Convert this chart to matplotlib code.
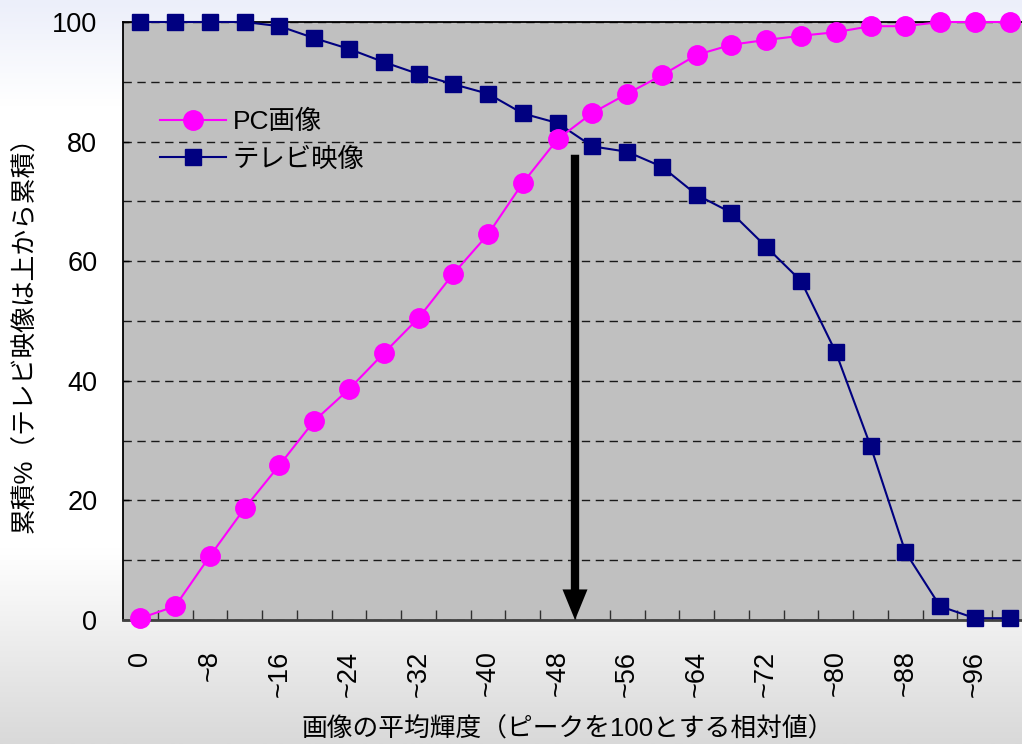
import numpy as np
import matplotlib
matplotlib.use("Agg")
import matplotlib.pyplot as plt
from matplotlib.colors import LinearSegmentedColormap

plt.rcParams['font.family'] = ['Liberation Sans', 'Noto Sans CJK JP', 'DejaVu Sans']

# Brightness bins (each 4 units wide, 26 bins)
bins = ["0", "~4", "~8", "~12", "~16", "~20", "~24", "~28", "~32", "~36", "~40",
        "~44", "~48", "~52", "~56", "~60", "~64", "~68", "~72", "~76", "~80",
        "~84", "~88", "~92", "~96", "~100"]

# Cumulative share (%) for PC content (accumulated from the bottom)
pc_cum = [0.3, 2.3, 10.7, 18.7, 25.9, 33.3, 38.6, 44.6, 50.5, 57.9, 64.5,
          73.1, 80.4, 84.8, 88.0, 91.1, 94.5, 96.2, 97.0, 97.7, 98.3,
          99.3, 99.3, 100.0, 100.0, 100.0]

# Cumulative share (%) for TV content (accumulated from the top)
tv_cum = [100.0, 100.0, 100.0, 100.0, 99.3, 97.3, 95.5, 93.3, 91.3, 89.6, 88.0,
          84.7, 83.1, 79.2, 78.3, 75.8, 71.1, 68.1, 62.4, 56.7, 44.8,
          29.1, 11.4, 2.3, 0.3, 0.3]

series_names = ["PC画像", "テレビ映像"]
xlabel_text = "画像の平均輝度（ピークを100とする相対値）"
ylabel_text = "累積%（テレビ映像は上から累積）"

# Arrow marking the crossover between the two distributions
arrow_x = 12.5
arrow_y_start = 77.8
arrow_y_end = 0.0

W, H = 1022, 744
fig = plt.figure(figsize=(W / 100, H / 100), dpi=100)

# Soft vertical background gradient for the whole figure
bg = fig.add_axes([0, 0, 1, 1], zorder=-10)
bg.set_axis_off()
grad_cmap = LinearSegmentedColormap.from_list(
    "bg", [(0.0, "#eceffa"), (0.14, "#ffffff"), (0.74, "#ffffff"), (1.0, "#d9d9d9")])
bg.imshow(np.linspace(0, 1, 256).reshape(-1, 1), aspect="auto", cmap=grad_cmap,
          extent=[0, 1, 0, 1])

left_px, right_px, top_px, bottom_px = 123, 1027, 22, 620
ax = fig.add_axes([left_px / W, (H - bottom_px) / H,
                   (right_px - left_px) / W, (bottom_px - top_px) / H])
ax.set_facecolor("#c0c0c0")

x = np.arange(len(bins))
ax.plot(x, tv_cum, color="#000080", lw=1.5, marker="s", ms=11,
        markerfacecolor="#000080", markeredgecolor="#000080",
        clip_on=False, zorder=3, label=series_names[1])
ax.plot(x, pc_cum, color="#ff00ff", lw=1.5, marker="o", ms=14,
        markerfacecolor="#ff00ff", markeredgecolor="#ff00ff",
        clip_on=False, zorder=4, label=series_names[0])

ax.set_xlim(-0.5, len(bins) - 0.5)
ax.set_ylim(0, 100)

# Y axis
ax.set_yticks(np.arange(0, 101, 20))
ax.set_yticks(np.arange(10, 100, 20), minor=True)
ax.tick_params(axis="y", which="major", direction="in", length=4, width=1,
               labelsize=19.5, pad=18.5)
ax.tick_params(axis="y", which="minor", length=0)
ax.grid(axis="y", which="both", color="#1a1a1a", lw=1.0, linestyle=(0, (6, 4)))
ax.set_axisbelow(True)

# X axis: labels every other bin, tick marks on bin boundaries
ax.set_xticks(x[::2])
ax.set_xticklabels(bins[::2], rotation=90, fontsize=19.5)
ax.set_xticks(np.arange(0.5, len(bins) - 0.5, 1), minor=True)
ax.tick_params(axis="x", which="major", length=0, pad=22)
ax.tick_params(axis="x", which="minor", direction="in", length=7, width=1,
               color="#303030")

for side in ["left", "top", "right"]:
    ax.spines[side].set_color("#000000")
    ax.spines[side].set_linewidth(1.3)
ax.spines["bottom"].set_color("#404040")
ax.spines["bottom"].set_linewidth(2)

ax.set_xlabel(xlabel_text, fontsize=18.5)
ax.xaxis.set_label_coords(0.492, -0.183)
ax.xaxis.label.set_va("center")
ax.set_ylabel(ylabel_text, fontsize=18.5)
ax.yaxis.set_label_coords(-0.108, 0.488)
ax.yaxis.label.set_va("center")

handles, labels = ax.get_legend_handles_labels()
leg = ax.legend(handles[::-1], labels[::-1], loc="upper left",
                bbox_to_anchor=(0.041, 0.853), frameon=False, fontsize=19,
                borderpad=0, borderaxespad=0, handlelength=2.5,
                handletextpad=0.25, labelspacing=0.5)

ax.annotate("", xy=(arrow_x, arrow_y_end), xytext=(arrow_x, arrow_y_start),
            arrowprops=dict(arrowstyle="simple,head_length=2.2,head_width=1.8,tail_width=0.6",
                            mutation_scale=10, color="black", lw=0,
                            shrinkA=0, shrinkB=0),
            zorder=5)

fig.savefig("out.png", dpi=100)
